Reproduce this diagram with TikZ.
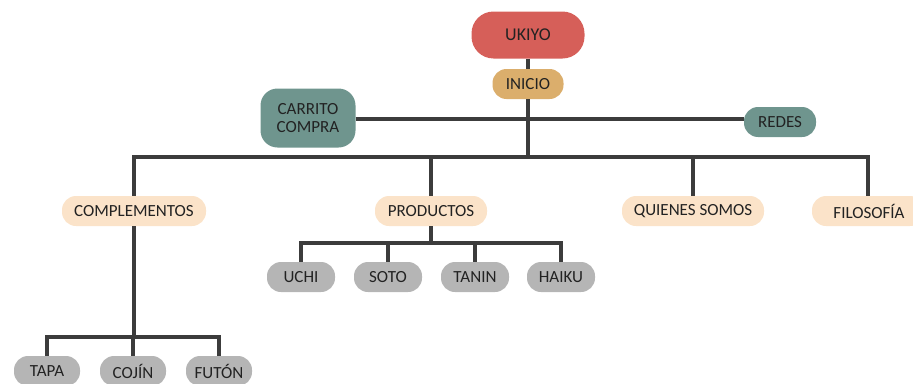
\documentclass[tikz,border=0pt]{standalone}
\usepackage{fontspec}
\setmainfont{Carlito}
\definecolor{cred}{HTML}{D65F59}
\definecolor{ctan}{HTML}{DBAE6C}
\definecolor{cteal}{HTML}{6F958E}
\definecolor{cpeach}{HTML}{FBE3C9}
\definecolor{cgray}{HTML}{B5B5B5}
\definecolor{cline}{HTML}{3C3C3C}
\definecolor{ctext}{HTML}{222222}
\begin{document}
\begin{tikzpicture}[x=1pt,y=-1pt,
  box/.style={inner sep=0pt, text=ctext, font=\fontsize{17}{17}\selectfont, align=center},
  pill/.style={box, minimum height=30pt, rounded corners=14pt},
  rootbox/.style={box, fill=cred, minimum width=113pt, minimum height=47pt, rounded corners=22pt, font=\fontsize{18}{18}\selectfont},
  startbox/.style={pill, fill=ctan, minimum width=71pt},
  tealbox/.style={box, fill=cteal, rounded corners=17pt},
  sectbox/.style={pill, fill=cpeach},
  leafbox/.style={pill, fill=cgray, minimum width=68pt},
  conn/.style={draw=cline, line width=4.5pt, line join=miter}]
\useasboundingbox (0,0) rectangle (913,383);
\clip (0,0) rectangle (913,383);
% nodes
\node[rootbox] (ukiyo) at (528,35) {UKIYO};
\node[startbox] (inicio) at (528,84) {INICIO};
\node[tealbox, minimum width=95pt, minimum height=59pt] (carrito) at (308,118) {CARRITO\\[1pt]COMPRA};
\node[tealbox, pill, fill=cteal, minimum width=72pt] (redes) at (780,122) {REDES};
\node[sectbox, minimum width=144pt] (comp) at (134,211) {COMPLEMENTOS};
\node[sectbox, minimum width=112pt] (prod) at (431,211) {PRODUCTOS};
\node[sectbox, minimum width=142pt] (quien) at (693,211) {QUIENES SOMOS};
\node[sectbox, minimum width=112pt] (filo) at (868,211) {\hspace*{2pt}FILOSOFÍA};
\node[leafbox] (uchi) at (301,277) {UCHI};
\node[leafbox] (soto) at (388,277) {SOTO};
\node[leafbox] (tanin) at (475,277) {TANIN};
\node[leafbox] (haiku) at (561,277) {HAIKU};
\node[leafbox, minimum width=66pt] (tapa) at (47,371) {TAPA};
\node[leafbox, minimum width=66pt] (cojin) at (133,371) {COJÍN};
\node[leafbox, minimum width=66pt] (futon) at (219,371) {FUTÓN};
% coordinates
\coordinate (mainbar) at (528,157);
\coordinate (prodbar) at (431,243);
\coordinate (compbar) at (134,337);
% connectors
\draw[conn] (ukiyo.south) -- (inicio.north);
\draw[conn] (inicio.south) -- (mainbar);
\draw[conn] (carrito.east |- 0,119) -- (redes.west |- 0,119);
\draw[conn] (comp.north) |- (mainbar) -| (filo.north);
\draw[conn] (prod.north) -- (prod.north |- mainbar);
\draw[conn] (quien.north) -- (quien.north |- mainbar);
\draw[conn] (prod.south) -- (prodbar);
\draw[conn] (uchi.north) |- (prodbar) -| (haiku.north);
\draw[conn] (soto.north) -- (soto.north |- prodbar);
\draw[conn] (tanin.north) -- (tanin.north |- prodbar);
\draw[conn] (comp.south) -- (compbar);
\draw[conn] (tapa.north) |- (compbar) -| (futon.north);
\draw[conn] (cojin.north) -- (cojin.north |- compbar);
\end{tikzpicture}
\end{document}
